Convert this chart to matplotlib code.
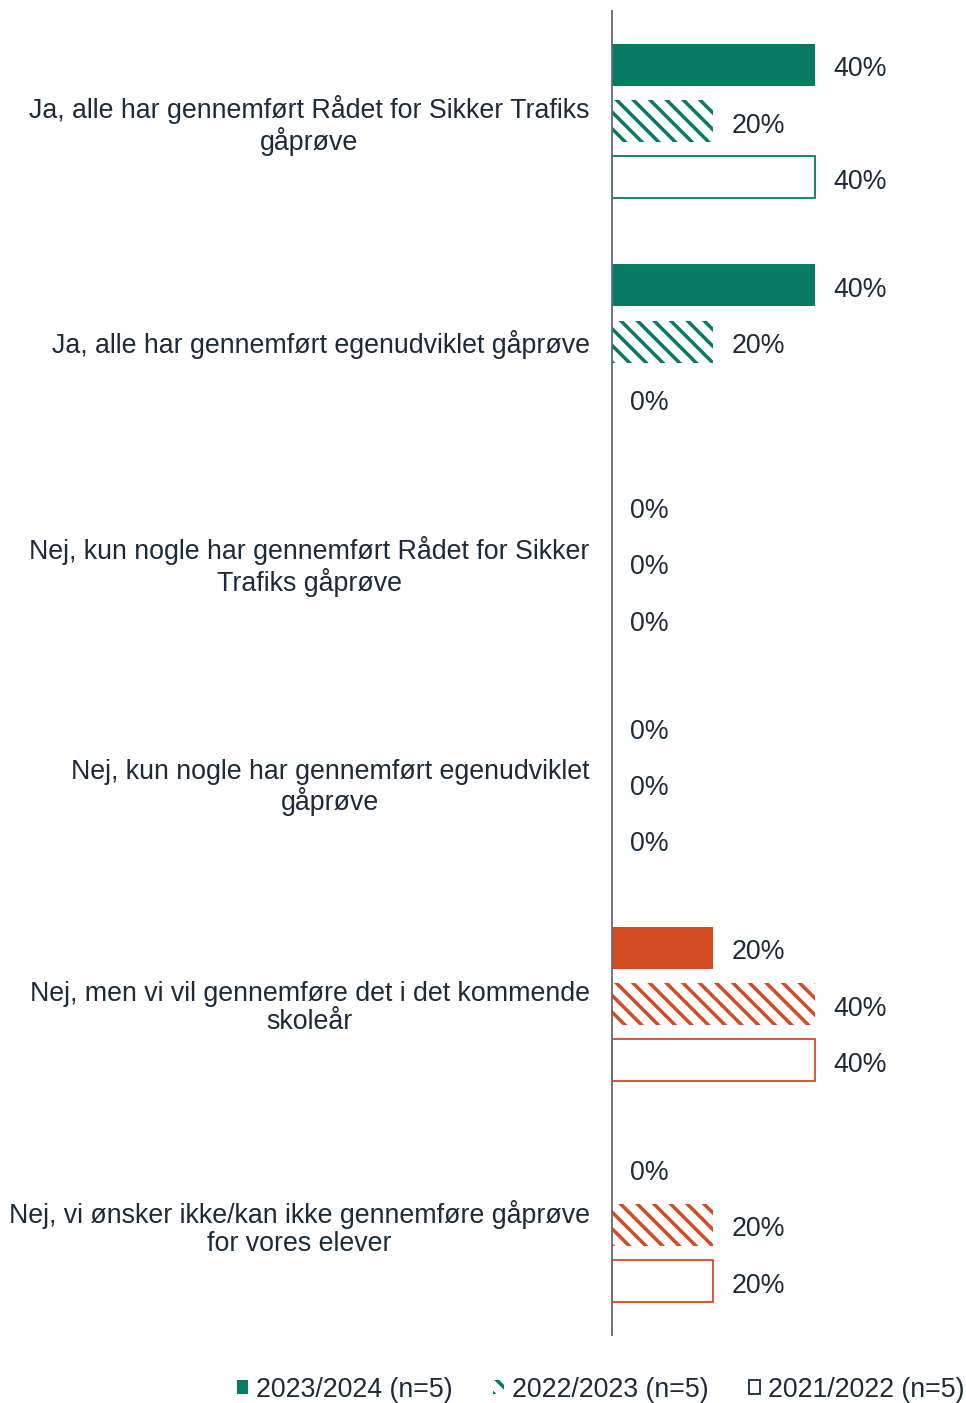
import numpy as np
import matplotlib.pyplot as plt
from matplotlib.patches import Patch

categories = [
    "Ja, alle har gennemført Rådet for Sikker Trafiks\ngåprøve",
    "Ja, alle har gennemført egenudviklet gåprøve",
    "Nej, kun nogle har gennemført Rådet for Sikker\nTrafiks gåprøve",
    "Nej, kun nogle har gennemført egenudviklet\ngåprøve",
    "Nej, men vi vil gennemføre det i det kommende\nskoleår",
    "Nej, vi ønsker ikke/kan ikke gennemføre gåprøve\nfor vores elever",
]
series = ["2023/2024 (n=5)", "2022/2023 (n=5)", "2021/2022 (n=5)"]
v2024 = [40, 40, 0, 0, 20, 0]
v2023 = [20, 20, 0, 0, 40, 20]
v2022 = [40, 0, 0, 0, 40, 20]

green = "#067A62"
orange = "#D34B23"
text_col = "#1C2B3A"
bar_colors = [green, green, green, green, orange, orange]
fs = 19.3

plt.rcParams['font.family'] = ['Liberation Sans', 'DejaVu Sans']
plt.rcParams['hatch.linewidth'] = 2.5

fig = plt.figure(figsize=(9.66, 14.03), dpi=100)
ax = fig.add_axes([0.6335, 0.0485, 0.35, 0.944])

y = np.arange(len(categories))
off = 0.255
h = 0.19

for i in range(len(categories)):
    c = bar_colors[i]
    # solid: current year
    ax.barh(y[i] - off, v2024[i] / 100, height=h, color=c, linewidth=0)
    # hatched: previous year
    ax.barh(y[i], v2023[i] / 100, height=h, facecolor="white", edgecolor=c,
            hatch="\\\\", linewidth=0)
    # outline: two years ago
    if v2022[i] > 0:
        ax.barh(y[i] + off, v2022[i] / 100, height=h, facecolor="white",
                edgecolor=c, linewidth=1.3)
    for yy, v in [(y[i] - off, v2024[i]), (y[i], v2023[i]), (y[i] + off, v2022[i])]:
        ax.annotate(f"{v}%", (v / 100, yy), xytext=(13, -3.5), textcoords="offset points",
                    ha="left", va="center", fontsize=fs, color=text_col)

ax.set_xlim(0, 0.666)
ax.set_ylim(len(categories) - 0.5, -0.5)
ax.set_xticks([])
ax.set_yticks(y)
ax.set_yticklabels(categories, fontsize=fs, color=text_col)
for t in ax.get_yticklabels():
    t.set_multialignment("center")
    t.set_linespacing(1.12)
ax.tick_params(axis="y", length=0, pad=16)
for s in ["top", "right", "bottom"]:
    ax.spines[s].set_visible(False)
ax.spines["left"].set_color("#5F6B78")
ax.spines["left"].set_linewidth(1.3)

handles = [
    Patch(facecolor=green, edgecolor=green, linewidth=0),
    Patch(facecolor="white", edgecolor=green, hatch="\\\\", linewidth=0),
    Patch(facecolor="white", edgecolor=text_col, linewidth=1.3),
]
leg = fig.legend(handles, series, loc="center", bbox_to_anchor=(0.622, 0.0095), ncol=3,
                 frameon=False, fontsize=fs, handlelength=0.42, handleheight=0.42,
                 handletextpad=0.3, columnspacing=1.5, labelcolor=text_col)

fig.savefig("out.png", dpi=100)
